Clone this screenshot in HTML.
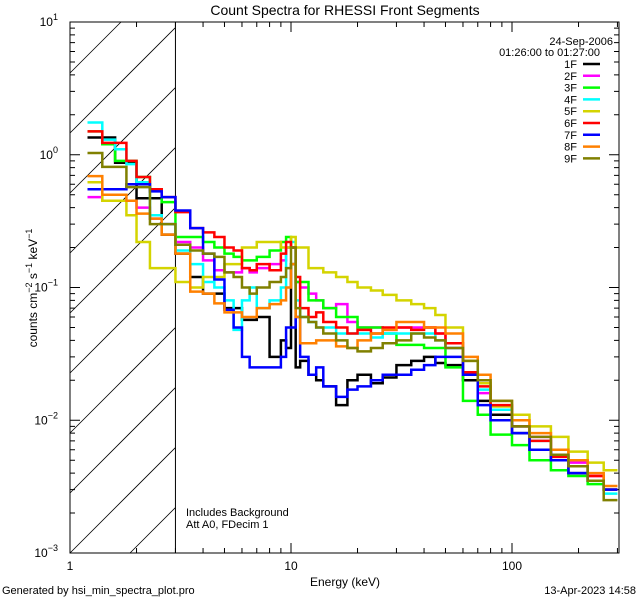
<!DOCTYPE html>
<html><head><meta charset="utf-8"><style>
html,body{margin:0;padding:0;background:#fff;width:640px;height:600px;overflow:hidden;position:relative;}
svg{display:block;position:absolute;left:0;top:0;font-family:"Liberation Sans",sans-serif;}
</style></head><body>
<svg id="c" width="640" height="600" viewBox="0 0 640 600" overflow="hidden">
<rect width="640" height="600" fill="#fff"/>
<text x="345" y="15" font-size="14" text-anchor="middle">Count Spectra for RHESSI Front Segments</text>
<text x="345" y="586" font-size="12" text-anchor="middle">Energy (keV)</text>
<text transform="translate(37,288) rotate(-90)" font-size="12" text-anchor="middle">counts cm<tspan dy="-5" font-size="9">−2</tspan><tspan dy="5"> s</tspan><tspan dy="-5" font-size="9">−1</tspan><tspan dy="5"> keV</tspan><tspan dy="-5" font-size="9">−1</tspan></text>
<text x="2" y="594" font-size="11">Generated by hsi_min_spectra_plot.pro</text>
<text x="636" y="594" font-size="11" text-anchor="end">13-Apr-2023 14:58</text>
<text x="186" y="516" font-size="11">Includes Background</text>
<text x="186" y="528" font-size="11">Att A0, FDecim 1</text>
<text x="613" y="45" font-size="11" text-anchor="end">24-Sep-2006</text>
<text x="600" y="56" font-size="11" text-anchor="end">01:26:00 to 01:27:00</text>
<g id="hatch"></g>
<g id="axes"></g>
<g id="series"></g>
<g id="legend"></g>
</svg>
<script>
const edges=[1.2,1.4,1.6,1.8,2.0,2.3,2.6,3.0,3.5,4,4.5,5,5.5,6,6.5,7,8,9,9.5,10,10.5,11,12,13,14,16,18,20,23,26,30,35,40,45,50,60,70,80,100,120,150,180,220,260,300];
const seriesNames=["1F","2F","3F","4F","5F","6F","7F","8F","9F"];
const seriesColors=["#000000","#ff00ff","#00ff00","#00ffff","#d4d400","#ff0000","#0000ff","#ff8000","#808000"];
const s1F=[1.35,1.35,0.87,0.87,0.47,0.47,0.25,0.18,0.12,0.09,0.09,0.07,0.07,0.057,0.057,0.06,0.03,0.04,0.035,0.15,0.025,0.028,0.022,0.02,0.018,0.013,0.02,0.022,0.019,0.021,0.026,0.028,0.03,0.027,0.026,0.02,0.014,0.011,0.008,0.006,0.005,0.004,0.0035,0.003];
const s2F=[0.48,0.45,0.45,0.45,0.4,0.33,0.3,0.22,0.2,0.16,0.135,0.13,0.13,0.14,0.13,0.14,0.15,0.16,0.2,0.2,0.11,0.1,0.09,0.08,0.07,0.075,0.055,0.05,0.05,0.048,0.05,0.05,0.05,0.045,0.035,0.022,0.016,0.012,0.009,0.0075,0.0055,0.0048,0.0038,0.003];
const s3F=[1.5,1.2,0.9,0.9,0.68,0.55,0.44,0.24,0.24,0.22,0.2,0.18,0.17,0.16,0.16,0.17,0.19,0.22,0.24,0.2,0.11,0.11,0.08,0.08,0.07,0.06,0.06,0.05,0.05,0.045,0.037,0.037,0.035,0.035,0.025,0.014,0.011,0.0078,0.0065,0.005,0.0042,0.0038,0.0033,0.003];
const s4F=[1.75,1.3,1.1,0.85,0.62,0.35,0.3,0.19,0.15,0.11,0.1,0.08,0.048,0.08,0.1,0.07,0.08,0.1,0.2,0.22,0.08,0.06,0.055,0.05,0.05,0.045,0.045,0.045,0.042,0.045,0.045,0.045,0.045,0.04,0.035,0.022,0.017,0.012,0.009,0.007,0.0055,0.0045,0.0035,0.0028];
const s5F=[0.62,0.45,0.45,0.35,0.22,0.14,0.14,0.11,0.1,0.12,0.12,0.15,0.15,0.2,0.2,0.22,0.22,0.2,0.2,0.24,0.2,0.2,0.14,0.14,0.13,0.12,0.11,0.1,0.095,0.088,0.08,0.075,0.07,0.062,0.05,0.028,0.019,0.0127,0.011,0.009,0.0075,0.0058,0.0048,0.0042];
const s6F=[1.5,1.23,1.23,0.9,0.68,0.55,0.48,0.37,0.28,0.26,0.24,0.2,0.19,0.14,0.135,0.15,0.135,0.18,0.22,0.2,0.12,0.07,0.06,0.065,0.055,0.05,0.045,0.048,0.045,0.05,0.05,0.048,0.05,0.045,0.038,0.023,0.018,0.013,0.009,0.007,0.0053,0.0045,0.0038,0.003];
const s7F=[0.55,0.55,0.55,0.6,0.6,0.53,0.48,0.38,0.28,0.18,0.115,0.068,0.05,0.03,0.025,0.025,0.025,0.03,0.05,0.05,0.06,0.03,0.022,0.025,0.018,0.015,0.017,0.018,0.02,0.022,0.022,0.024,0.026,0.03,0.03,0.022,0.013,0.01,0.008,0.006,0.005,0.004,0.0035,0.003];
const s8F=[0.69,0.5,0.5,0.45,0.36,0.33,0.25,0.18,0.093,0.09,0.076,0.065,0.065,0.06,0.06,0.07,0.075,0.08,0.1,0.15,0.06,0.038,0.038,0.04,0.04,0.036,0.035,0.04,0.045,0.048,0.055,0.055,0.05,0.05,0.045,0.03,0.022,0.014,0.01,0.008,0.006,0.005,0.004,0.0032];
const s9F=[1.03,0.81,0.81,0.57,0.57,0.3,0.3,0.21,0.19,0.18,0.17,0.13,0.12,0.1,0.09,0.1,0.11,0.12,0.14,0.2,0.07,0.06,0.055,0.05,0.045,0.04,0.035,0.033,0.035,0.038,0.04,0.045,0.042,0.04,0.035,0.028,0.02,0.014,0.009,0.0075,0.0055,0.0045,0.0035,0.0025];
const seriesData=[s1F,s2F,s3F,s4F,s5F,s6F,s7F,s8F,s9F];
const yTickExps=[1,0,-1,-2,-3];
const xTickLabels=["1","10","100"];

const X0=70,X1=619,Y0=22,Y1=553,XD=221,YD=132.75;
const xs=e=>X0+XD*Math.log10(e);
const ys=v=>(Y1-YD*(Math.log10(v)+3));
const NS="http://www.w3.org/2000/svg";
function mk(tag,attrs,parent){const el=document.createElementNS(NS,tag);for(const k in attrs)el.setAttribute(k,attrs[k]);parent.appendChild(el);return el;}
const hatch=document.getElementById('hatch'),axes=document.getElementById('axes'),ser=document.getElementById('series'),leg=document.getElementById('legend');

const xh=xs(3);
let hp="";
for(let k=-2;k<12;k++){
  const yb=Y1-k*60; // y at x=X0; line y = yb - (x-X0)
  let xa=X0, xb=xh;
  // clip: y<=Y1 -> x >= X0 + (yb-Y1); y>=Y0 -> x <= X0 + (yb-Y0)
  xa=Math.max(xa, X0+(yb-Y1));
  xb=Math.min(xb, X0+(yb-Y0));
  if(xb<=xa) continue;
  hp+=`M${xa},${yb-(xa-X0)}L${xb},${yb-(xb-X0)}`;
}
const hl=mk('path',{d:hp,stroke:'#000','stroke-width':0.8,fill:'none'},hatch);


const vl=mk('line',{x1:xh,y1:Y0,x2:xh,y2:Y1,stroke:'#000','stroke-width':1},hatch);



const fr=mk('rect',{x:X0,y:Y0,width:X1-X0,height:Y1-Y0,fill:'none',stroke:'#000','stroke-width':1},axes);


let tp="";
for(let d=0;d<3;d++)for(let m=1;m<10;m++){const e=Math.pow(10,d)*m;const x=xs(e);if(x>X1)continue;const L=m===1?10:5;tp+=`M${x},${Y1}v${-L}M${x},${Y0}v${L}`;}
for(let d=-3;d<1;d++)for(let m=1;m<10;m++){const y=ys(Math.pow(10,d)*m);const L=m===1?10:5;tp+=`M${X0},${y}h${L}M${X1},${y}h${-L}`;}
tp+=`M${X0},${Y0}h10M${X1},${Y0}h-10`;
const tk=mk('path',{d:tp,stroke:'#000','stroke-width':1,fill:'none'},axes);


xTickLabels.forEach((l,i)=>{const t=mk('text',{x:xs(Math.pow(10,i)),y:570,'font-size':12,'text-anchor':'middle'},axes);t.textContent=l;

});
yTickExps.forEach(p=>{const y=ys(Math.pow(10,p));const t=mk('text',{x:58,y:y+4,'font-size':12,'text-anchor':'end'},axes);t.textContent='10';const s=mk('tspan',{dy:-6,'font-size':9},t);s.textContent=p<0?'−'+(-p):String(p);

});

seriesData.forEach((vals,si)=>{
  let d="";
  vals.forEach((v,i)=>{const xa=xs(edges[i]),xb=Math.min(X1,xs(edges[i+1])),y=Math.max(Y0,Math.min(Y1,ys(v)));d+=(i===0?`M${xa},${y}`:`L${xa},${y}`)+`L${xb},${y}`;});
  const p=mk('path',{d:d,stroke:seriesColors[si],'stroke-width':2.5,fill:'none'},ser);
  
  
});
seriesNames.forEach((n,i)=>{const y=64+i*11.8;
  const t=mk('text',{x:577,y:y+4,'font-size':11,'text-anchor':'end'},leg);t.textContent=n;
  
  
  const l=mk('line',{x1:583,y1:y,x2:600,y2:y,stroke:seriesColors[i],'stroke-width':2.5},leg);
  
  
});
</script>
</body></html>
